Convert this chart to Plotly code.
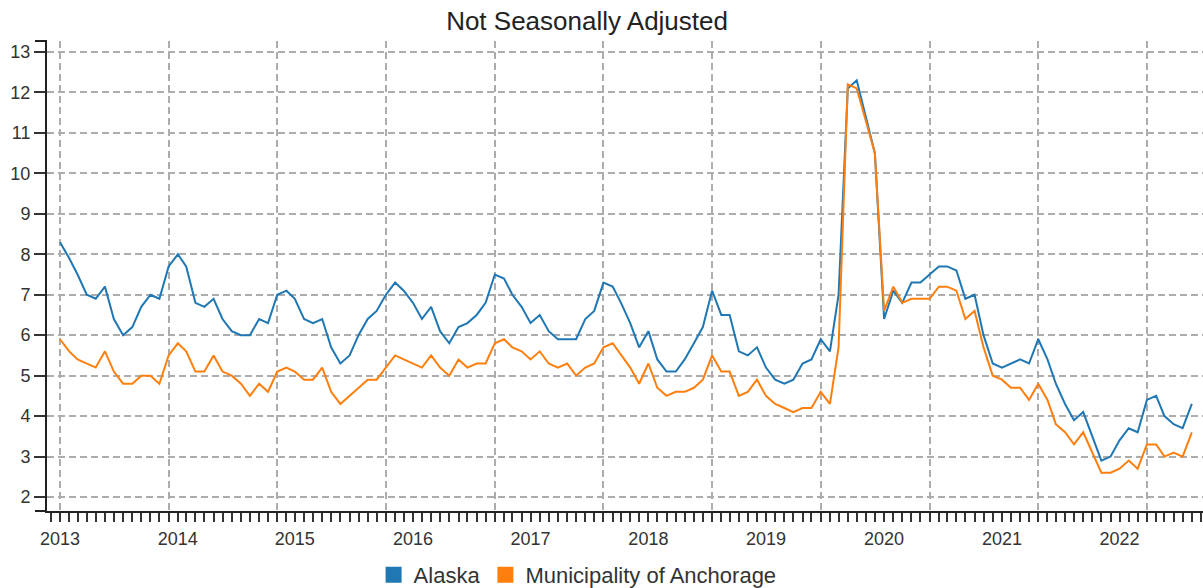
import pandas as pd
import plotly.graph_objects as go

# Monthly unemployment rate, not seasonally adjusted, Jan 2013 onward
months = pd.date_range("2013-01-01", periods=126, freq="MS")

alaska = [
    8.3, 7.9, 7.5, 7.0, 6.9, 7.2, 6.4, 6.0, 6.2, 6.7, 7.0, 6.9,
    7.7, 8.0, 7.7, 6.8, 6.7, 6.9, 6.4, 6.1, 6.0, 6.0, 6.4, 6.3,
    7.0, 7.1, 6.9, 6.4, 6.3, 6.4, 5.7, 5.3, 5.5, 6.0, 6.4, 6.6,
    7.0, 7.3, 7.1, 6.8, 6.4, 6.7, 6.1, 5.8, 6.2, 6.3, 6.5, 6.8,
    7.5, 7.4, 7.0, 6.7, 6.3, 6.5, 6.1, 5.9, 5.9, 5.9, 6.4, 6.6,
    7.3, 7.2, 6.8, 6.3, 5.7, 6.1, 5.4, 5.1, 5.1, 5.4, 5.8, 6.2,
    7.1, 6.5, 6.5, 5.6, 5.5, 5.7, 5.2, 4.9, 4.8, 4.9, 5.3, 5.4,
    5.9, 5.6, 7.0, 12.1, 12.3, 11.4, 10.5, 6.4, 7.1, 6.8, 7.3, 7.3,
    7.5, 7.7, 7.7, 7.6, 6.9, 7.0, 6.0, 5.3, 5.2, 5.3, 5.4, 5.3,
    5.9, 5.4, 4.8, 4.3, 3.9, 4.1, 3.5, 2.9, 3.0, 3.4, 3.7, 3.6,
    4.4, 4.5, 4.0, 3.8, 3.7, 4.3,
]

anchorage = [
    5.9, 5.6, 5.4, 5.3, 5.2, 5.6, 5.1, 4.8, 4.8, 5.0, 5.0, 4.8,
    5.5, 5.8, 5.6, 5.1, 5.1, 5.5, 5.1, 5.0, 4.8, 4.5, 4.8, 4.6,
    5.1, 5.2, 5.1, 4.9, 4.9, 5.2, 4.6, 4.3, 4.5, 4.7, 4.9, 4.9,
    5.2, 5.5, 5.4, 5.3, 5.2, 5.5, 5.2, 5.0, 5.4, 5.2, 5.3, 5.3,
    5.8, 5.9, 5.7, 5.6, 5.4, 5.6, 5.3, 5.2, 5.3, 5.0, 5.2, 5.3,
    5.7, 5.8, 5.5, 5.2, 4.8, 5.3, 4.7, 4.5, 4.6, 4.6, 4.7, 4.9,
    5.5, 5.1, 5.1, 4.5, 4.6, 4.9, 4.5, 4.3, 4.2, 4.1, 4.2, 4.2,
    4.6, 4.3, 5.7, 12.2, 12.1, 11.3, 10.5, 6.6, 7.2, 6.8, 6.9, 6.9,
    6.9, 7.2, 7.2, 7.1, 6.4, 6.6, 5.7, 5.0, 4.9, 4.7, 4.7, 4.4,
    4.8, 4.4, 3.8, 3.6, 3.3, 3.6, 3.1, 2.6, 2.6, 2.7, 2.9, 2.7,
    3.3, 3.3, 3.0, 3.1, 3.0, 3.6,
]

grid_dates = [f"{y}-01-01" for y in range(2013, 2024)]
year_labels = ["2013", "2014", "2015", "2016", "2017", "2018", "2019", "2020", "2021", "2022"]
label_dates = [months[13 * k] for k in range(len(year_labels))]

BLUE = "#1f77b4"
ORANGE = "#ff7f0e"
FONT = "Arial, Liberation Sans, sans-serif"
XRANGE = ["2012-11-18 08:00", "2023-07-08 12:00"]
YRANGE = [1.654, 13.272]
GRID = "#adadad"

fig = go.Figure()
fig.add_trace(go.Scatter(x=months, y=alaska, mode="lines", name="Alaska",
                         line=dict(color=BLUE, width=2), showlegend=False))
fig.add_trace(go.Scatter(x=months, y=anchorage, mode="lines", name="Municipality of Anchorage",
                         line=dict(color=ORANGE, width=2), showlegend=False))
# legend proxies (square swatches)
fig.add_trace(go.Scatter(x=[None], y=[None], mode="markers", name="Alaska", xaxis="x2",
                         marker=dict(symbol="square", size=16, color=BLUE)))
fig.add_trace(go.Scatter(x=[None], y=[None], mode="markers", name="Municipality of Anchorage",
                         xaxis="x2", marker=dict(symbol="square", size=16, color=ORANGE)))

fig.update_layout(
    width=1203, height=588,
    margin=dict(l=47, r=0, t=41, b=77, pad=0, autoexpand=False),
    paper_bgcolor="white", plot_bgcolor="white",
    font=dict(family=FONT, color="#333333"),
    title=dict(text="Not Seasonally Adjusted", x=0.488, xref="container", xanchor="center",
               y=1 - 21 / 588, yref="container", yanchor="middle",
               font=dict(size=26, color="#222222", family=FONT)),
    xaxis=dict(
        type="date", range=XRANGE, tickmode="array", tickvals=grid_dates,
        showticklabels=False, ticks="outside", ticklen=9, tickwidth=1.5, tickcolor="#333333",
        minor=dict(dtick="M1", tick0="2013-01-01", ticks="outside", ticklen=9,
                   tickwidth=1.5, tickcolor="#333333", showgrid=False),
        showgrid=True, gridcolor=GRID, gridwidth=1.5, griddash="7px,4px",
        showline=True, linecolor="#222222", linewidth=2, zeroline=False, anchor="y",
        automargin=False,
    ),
    xaxis2=dict(
        type="date", range=XRANGE, overlaying="x", anchor="y", side="bottom",
        tickmode="array", tickvals=label_dates, ticktext=year_labels,
        ticks="outside", ticklen=11, tickcolor="rgba(0,0,0,0)",
        showgrid=False, showline=False, zeroline=False, automargin=False,
        tickfont=dict(size=18, color="#333333", family=FONT),
    ),
    yaxis=dict(
        range=YRANGE, tickmode="linear", tick0=0, dtick=1,
        ticks="outside", ticklen=11, tickwidth=2, tickcolor="#333333",
        tickfont=dict(size=18, color="#333333", family=FONT),
        showgrid=True, gridcolor=GRID, gridwidth=1.5, griddash="7px,4px",
        showline=True, linecolor="#222222", linewidth=2, zeroline=False, automargin=False,
    ),
    legend=dict(orientation="h", x=0.459, xanchor="center", y=-64 / 470, yanchor="middle",
                font=dict(size=22, color="#333333", family=FONT), bgcolor="rgba(0,0,0,0)"),
    shapes=[
        dict(type="line", xref="paper", yref="paper", x0=-12 / 1156, x1=0, y0=0, y1=0,
             line=dict(color="#222222", width=2)),
        dict(type="line", xref="paper", yref="paper", x0=-12 / 1156, x1=0, y0=1, y1=1,
             line=dict(color="#222222", width=2)),
    ],
)

fig.write_html("out.html", config={"displayModeBar": False},
               post_script="document.body.style.margin='0';")
